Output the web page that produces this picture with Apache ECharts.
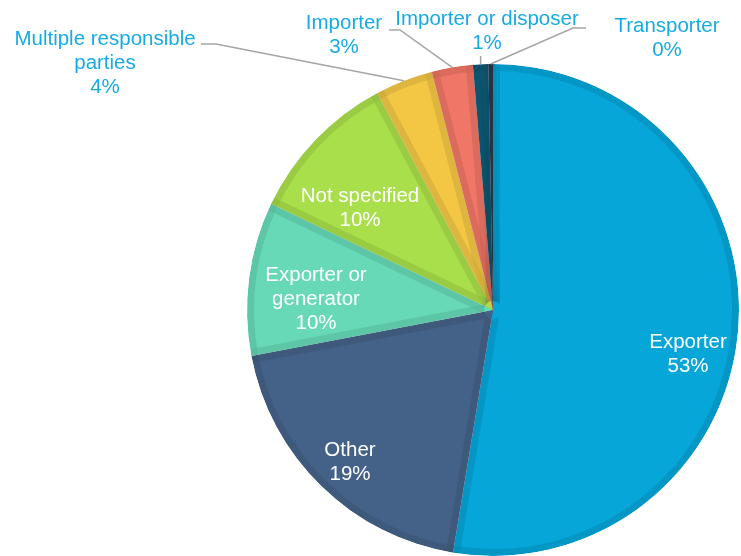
<!DOCTYPE html>
<html>
<head>
<meta charset="utf-8">
<script src="https://cdn.jsdelivr.net/npm/echarts@6/dist/echarts.min.js"></script>
<style>
  html, body { margin: 0; padding: 0; background: #ffffff; }
  #chart { width: 741px; height: 556px; }
</style>
</head>
<body>
<div id="chart"></div>
<script>
// Responsible party categories and their share of cases (%)
const categories = [
  'Exporter',
  'Other',
  'Exporter or\ngenerator',
  'Not specified',
  'Multiple responsible\nparties',
  'Importer',
  'Importer or disposer',
  'Transporter'
];
const shares = [52.6, 19.4, 10.1, 10.1, 3.8, 2.7, 1.0, 0.3];

// Slice fill colours
const fillColors = ['#06A6D9', '#446287', '#67D9B7', '#A9DF4B', '#F3C744', '#F07667', '#0F5B79', '#2B3C50'];

// Geometry and styling
const CENTER = [493, 310];
const R = 246;
const STRIP = 7;                       // width of the inner shaded border
const SHADE = 'rgba(0,0,0,0.045)';
const LABEL_BLUE = '#17ABE5';
const LEADER_GREY = '#A5A5A5';

// Centre of each label block, in pixels
const labelSpots = [[688, 354], [350, 462], [316, 299], [360, 208], [105, 63], [344, 35], [487, 31], [667, 38]];
const insideLabel = [true, true, true, true, false, false, false, false];
// Bend points of the leader lines (after the start on the rim)
const leaderBends = {
  4: [[216, 44], [201, 44]],
  5: [[400, 30], [389, 30]],
  6: 'vertical',
  7: [[573, 28], [586, 28]]
};

const base = categories.map((name, i) => ({ name, value: shares[i] }));

const common = {
  type: 'pie',
  center: CENTER,
  startAngle: 90,
  clockwise: true,
  silent: true,
  animation: false,
  avoidLabelOverlap: false,
  label: { show: false },
  labelLine: { show: false },
  emphasis: { disabled: true }
};

const option = {
  backgroundColor: '#ffffff',
  series: [
    // solid slice fills
    Object.assign({}, common, {
      z: 1,
      radius: R,
      data: base.map((d, i) => ({ name: d.name, value: d.value, itemStyle: { color: fillColors[i] } }))
    }),
    // shaded edges along the slice boundaries
    Object.assign({}, common, {
      z: 2,
      radius: R,
      itemStyle: { color: 'rgba(0,0,0,0)', borderColor: SHADE, borderWidth: STRIP * 2, borderJoin: 'bevel' },
      data: base.map(d => ({ name: d.name, value: d.value }))
    }),
    // shaded rim band
    Object.assign({}, common, {
      z: 3,
      radius: [R - STRIP, R],
      itemStyle: { color: SHADE, borderWidth: 0 },
      data: base.map(d => ({ name: d.name, value: d.value }))
    }),
    // clean tips at the centre
    Object.assign({}, common, {
      z: 4,
      radius: 9,
      data: base.map((d, i) => ({ name: d.name, value: d.value, itemStyle: { color: fillColors[i] } }))
    }),
    // white ring trimming the edge shading outside the rim
    Object.assign({}, common, {
      z: 5,
      radius: [R, R + 16],
      itemStyle: { color: '#ffffff', borderWidth: 0 },
      data: base.map(d => ({ name: d.name, value: d.value }))
    }),
    // labels and leader lines
    Object.assign({}, common, {
      z: 6,
      radius: R,
      itemStyle: { color: 'rgba(0,0,0,0)' },
      label: {
        show: true,
        position: 'outside',
        fontFamily: '"Liberation Sans", Arial, sans-serif',
        fontSize: 20.5,
        lineHeight: 24,
        align: 'center',
        formatter: p => p.name + '\n' + Math.round(p.percent) + '%'
      },
      labelLine: { show: true, lineStyle: { color: LEADER_GREY, width: 1.5 } },
      labelLayout: function (p) {
        const i = p.dataIndex;
        const out = { x: labelSpots[i][0], y: labelSpots[i][1], align: 'center', verticalAlign: 'middle' };
        if (!insideLabel[i] && p.labelLinePoints) {
          const start = p.labelLinePoints[0];
          const bend = leaderBends[i];
          out.labelLinePoints = bend === 'vertical'
            ? [start, [start[0], 56]]
            : [start].concat(bend);
        }
        return out;
      },
      data: base.map((d, i) => ({
        name: d.name,
        value: d.value,
        label: { color: insideLabel[i] ? '#ffffff' : LABEL_BLUE },
        labelLine: { show: !insideLabel[i] }
      }))
    })
  ]
};

const chart = echarts.init(document.getElementById('chart'), null, { renderer: 'canvas' });
chart.setOption(option);
</script>
</body>
</html>
